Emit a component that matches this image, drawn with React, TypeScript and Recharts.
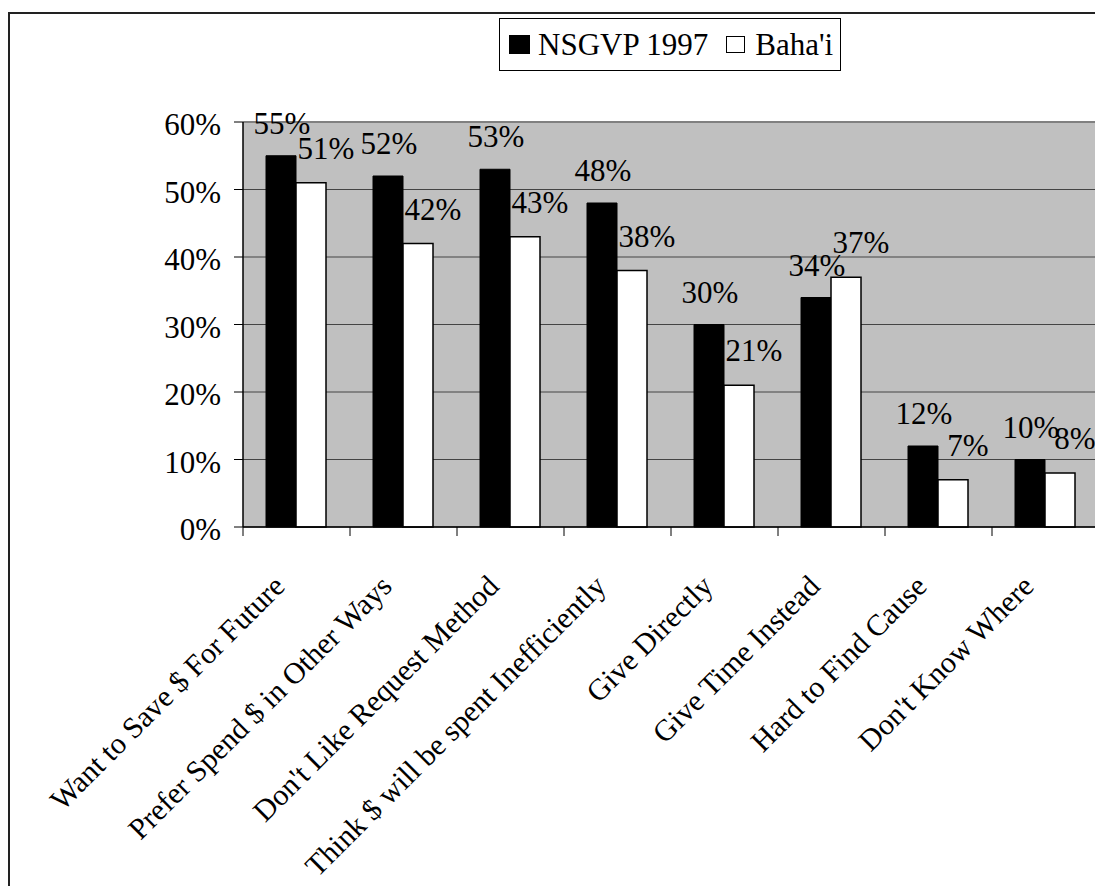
import React from 'react';
import { BarChart, Bar, XAxis, YAxis, CartesianGrid, ReferenceLine } from 'recharts';

const categories = [
  'Want to Save $ For Future',
  'Prefer Spend $ in Other Ways',
  "Don't Like Request Method",
  'Think $ will be spent Inefficiently',
  'Give Directly',
  'Give Time Instead',
  'Hard to Find Cause',
  "Don't Know Where",
];
const nsgvp1997 = [55, 52, 53, 48, 30, 34, 12, 10];
const bahai = [51, 42, 43, 38, 21, 37, 7, 8];
const yTicks = [0, 10, 20, 30, 40, 50, 60];
const seriesNames = ['NSGVP 1997', "Baha'i"];

const data = categories.map((c, i) => ({ category: c, nsgvp: nsgvp1997[i], bahai: bahai[i] }));

const FONT = 'Liberation Serif, Times New Roman, serif';

const makeLabel = (dx: number, gap: number) => (props: any) => {
  const { x, y, width, value } = props;
  return (
    <text
      x={Number(x) + Number(width) / 2 + dx}
      y={Number(y) - gap}
      textAnchor="middle"
      style={{ fontFamily: FONT, fontSize: 31 }}
      fill="#000"
    >
      {`${value}%`}
    </text>
  );
};

const CatTick = (props: any) => {
  const { x, y, payload, index } = props;
  const cx = Number(x);
  const cy = Number(y);
  const half = Number(payload && payload.offset) || 53.5;
  const ax = cx - 10;
  const ay = cy + 61;
  const isLast = index === categories.length - 1;
  return (
    <g>
      <line x1={cx - half} y1={cy} x2={cx - half} y2={cy + 9} stroke="#000" strokeWidth={1} />
      {isLast && <line x1={cx + half} y1={cy} x2={cx + half} y2={cy + 9} stroke="#000" strokeWidth={1} />}
      <text
        x={ax}
        y={ay}
        transform={`rotate(-45, ${ax}, ${ay})`}
        textAnchor="end"
        style={{ fontFamily: FONT, fontSize: 30 }}
        fill="#000"
      >
        {payload.value}
      </text>
    </g>
  );
};

export default function App() {
  return (
    <div style={{ position: 'relative', width: 1095, height: 878, overflow: 'hidden', background: '#fff' }}>
      <div
        style={{
          position: 'absolute',
          left: 0,
          top: 4,
          width: 1200,
          height: 1000,
          border: '2px solid #222',
          boxSizing: 'border-box',
        }}
      />
      <div style={{ position: 'absolute', left: 0, top: 0 }}>
        <BarChart
          width={1095}
          height={878}
          data={data}
          margin={{ top: 114, right: 0, bottom: 358, left: 0 }}
          barCategoryGap="21.5%"
          barGap={0}
          style={{ fontFamily: FONT }}
        >
          <CartesianGrid vertical={false} fill="#C0C0C0" stroke="#444" strokeWidth={1} />
          <XAxis
            dataKey="category"
            interval={0}
            tick={<CatTick />}
            tickLine={false}
            tickSize={0}
            tickMargin={0}
            height={1}
            axisLine={{ stroke: '#000', strokeWidth: 1.5 }}
          />
          <YAxis
            domain={[0, 60]}
            ticks={yTicks}
            width={235}
            tickSize={9}
            tickMargin={13}
            interval={0}
            tickFormatter={(v: number) => `${v}%`}
            tick={{ fontFamily: FONT, fontSize: 31, fill: '#000', dy: 2, style: { fontFamily: FONT } }}
            axisLine={{ stroke: '#000', strokeWidth: 1.5 }}
            tickLine={{ stroke: '#000', strokeWidth: 1 }}
          />
          <YAxis
            yAxisId="right"
            orientation="right"
            width={4}
            tick={false}
            tickLine={false}
            axisLine={{ stroke: '#808080', strokeWidth: 2 }}
          />
          <ReferenceLine y={60} stroke="#808080" strokeWidth={2} />
          <Bar
            dataKey="nsgvp"
            name={seriesNames[0]}
            fill="#000"
            stroke="#000"
            strokeWidth={1}
            isAnimationActive={false}
            label={makeLabel(1, 22)}
          />
          <Bar
            dataKey="bahai"
            name={seriesNames[1]}
            fill="#fff"
            stroke="#000"
            strokeWidth={1.5}
            isAnimationActive={false}
            label={makeLabel(15, 24)}
          />
        </BarChart>
      </div>
      <div
        style={{
          position: 'absolute',
          left: 491,
          top: 10,
          width: 342,
          height: 53,
          border: '1px solid #000',
          boxSizing: 'border-box',
          background: '#fff',
          display: 'flex',
          alignItems: 'center',
          paddingLeft: 9,
          fontFamily: FONT,
          fontSize: 31,
          color: '#000',
          whiteSpace: 'nowrap',
        }}
      >
        <span style={{ display: 'inline-block', width: 21, height: 19, background: '#000', marginRight: 8 }} />
        <span>{seriesNames[0]}</span>
        <span
          style={{
            display: 'inline-block',
            width: 19,
            height: 17,
            background: '#fff',
            border: '1px solid #000',
            boxSizing: 'border-box',
            marginLeft: 18,
            marginRight: 10,
          }}
        />
        <span>{seriesNames[1]}</span>
      </div>
    </div>
  );
}
